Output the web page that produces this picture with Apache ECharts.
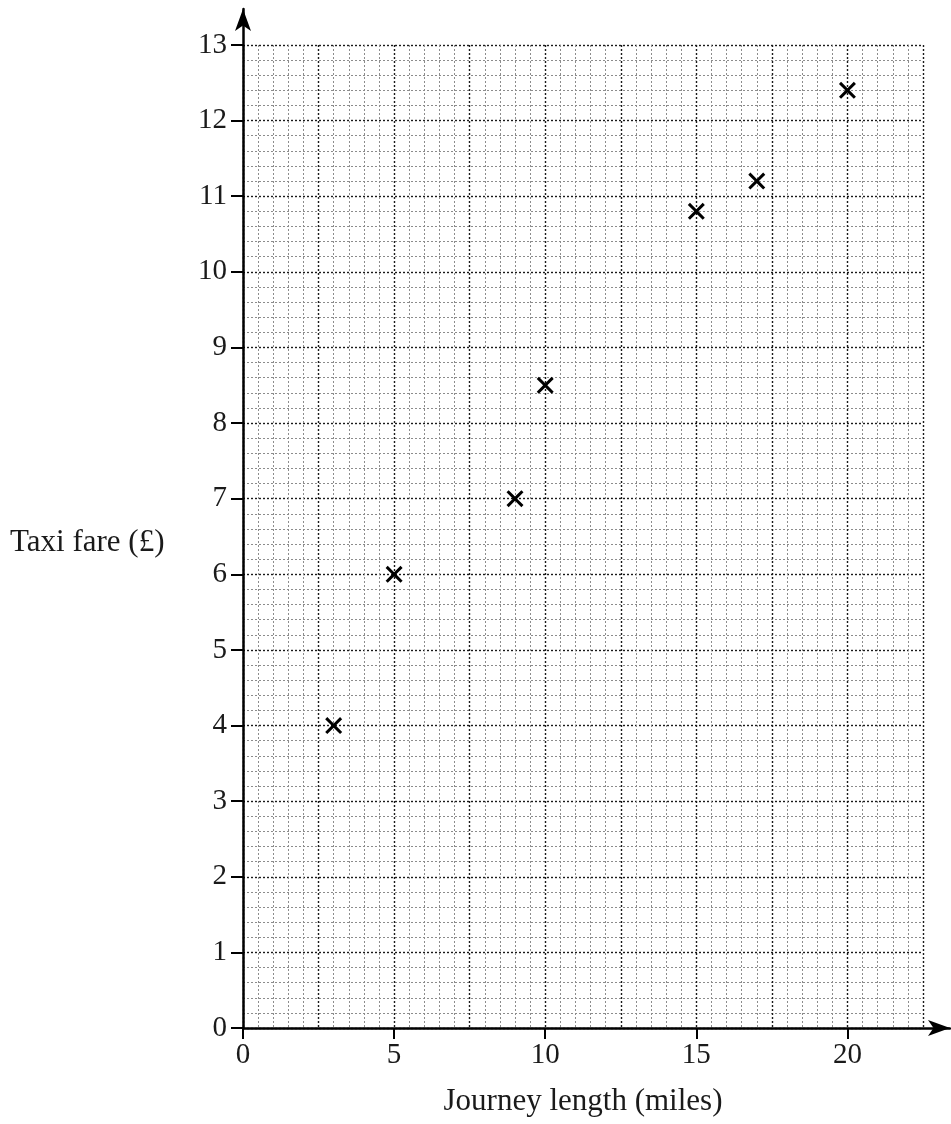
<!DOCTYPE html>
<html><head><meta charset="utf-8">
<script src="https://cdn.jsdelivr.net/npm/echarts@6/dist/echarts.min.js"></script>
<style>html,body{margin:0;padding:0;background:#fff}#c{width:951px;height:1124px}</style>
</head><body><div id="c"></div>
<script>
const journeyMiles = [3, 5, 9, 10, 15, 17, 20];
const taxiFare = [4, 6, 7, 8.5, 10.8, 11.2, 12.4];
const xTickValues = [0, 5, 10, 15, 20];
const xTitle = 'Journey length (miles)';
const yTitle = 'Taxi fare (£)';

const font = 'Liberation Serif';
const pts = journeyMiles.map((x, i) => [x, taxiFare[i]]);
const hidden = {axisLabel:{show:false}, axisTick:{show:false}, axisLine:{show:false}};
const chart = echarts.init(document.getElementById('c'));
chart.setOption({
  animation:false,
  backgroundColor:'#fff',
  title:{text:yTitle, left:5, top:522, textStyle:{fontFamily:font, fontSize:31, fontWeight:'normal', color:'#1a1a1a'}},
  grid:[
    {left:243, top:45, right:28, bottom:96, containLabel:false, outerBoundsMode:'none'},
    {left:243, top:9, right:1, bottom:96, containLabel:false, outerBoundsMode:'none'}
  ],
  xAxis:[
    {gridIndex:0, type:'value', min:0, max:22.5, interval:5, splitLine:{show:false},
     axisLine:{show:false},
     axisTick:{show:true, length:11, customValues:xTickValues, lineStyle:{color:'#000', width:2}},
     axisLabel:{fontFamily:font, fontSize:29, color:'#1a1a1a', margin:13, customValues:xTickValues},
     name:xTitle, nameLocation:'middle', nameGap:58, nameTextStyle:{fontFamily:font, fontSize:31, color:'#1a1a1a'}},
    Object.assign({gridIndex:0, type:'value', min:0, max:22.5, interval:0.5,
     splitLine:{show:true, lineStyle:{color:'#8c8c8c', type:[2,2], width:1}}}, hidden),
    Object.assign({gridIndex:0, type:'value', min:0, max:22.5, interval:2.5,
     splitLine:{show:true, lineStyle:{color:'#1a1a1a', type:[2,2], width:1.4}}}, hidden),
    {gridIndex:1, type:'value', min:0, max:10, splitLine:{show:false}, axisLabel:{show:false}, axisTick:{show:false},
     axisLine:{show:true, onZero:false, lineStyle:{color:'#000', width:2.5}, symbol:['none','arrow'], symbolSize:[12,22]}}
  ],
  yAxis:[
    {gridIndex:0, type:'value', min:0, max:13, interval:1, splitLine:{show:false},
     axisLine:{show:false}, axisTick:{show:true, length:12, lineStyle:{color:'#000', width:2}},
     axisLabel:{fontFamily:font, fontSize:29, color:'#1a1a1a', margin:16}},
    Object.assign({gridIndex:0, type:'value', min:0, max:13, interval:0.2,
     splitLine:{show:true, lineStyle:{color:'#8c8c8c', type:[2,2], width:1}}}, hidden),
    Object.assign({gridIndex:0, type:'value', min:0, max:13, interval:1,
     splitLine:{show:true, lineStyle:{color:'#1a1a1a', type:[2,2], width:1.4}}}, hidden),
    {gridIndex:1, type:'value', min:0, max:10, splitLine:{show:false}, axisLabel:{show:false}, axisTick:{show:false},
     axisLine:{show:true, onZero:false, lineStyle:{color:'#000', width:2.5}, symbol:['none','arrow'], symbolSize:[12,22]}}
  ],
  series:[{
    type:'scatter', xAxisIndex:0, yAxisIndex:0, data:pts,
    symbol:'path://M0,2.5 L2.5,0 L10,7.5 L17.5,0 L20,2.5 L12.5,10 L20,17.5 L17.5,20 L10,12.5 L2.5,20 L0,17.5 L7.5,10 Z',
    symbolSize:17, itemStyle:{color:'#000', opacity:1}, z:10
  }]
});
</script></body></html>
